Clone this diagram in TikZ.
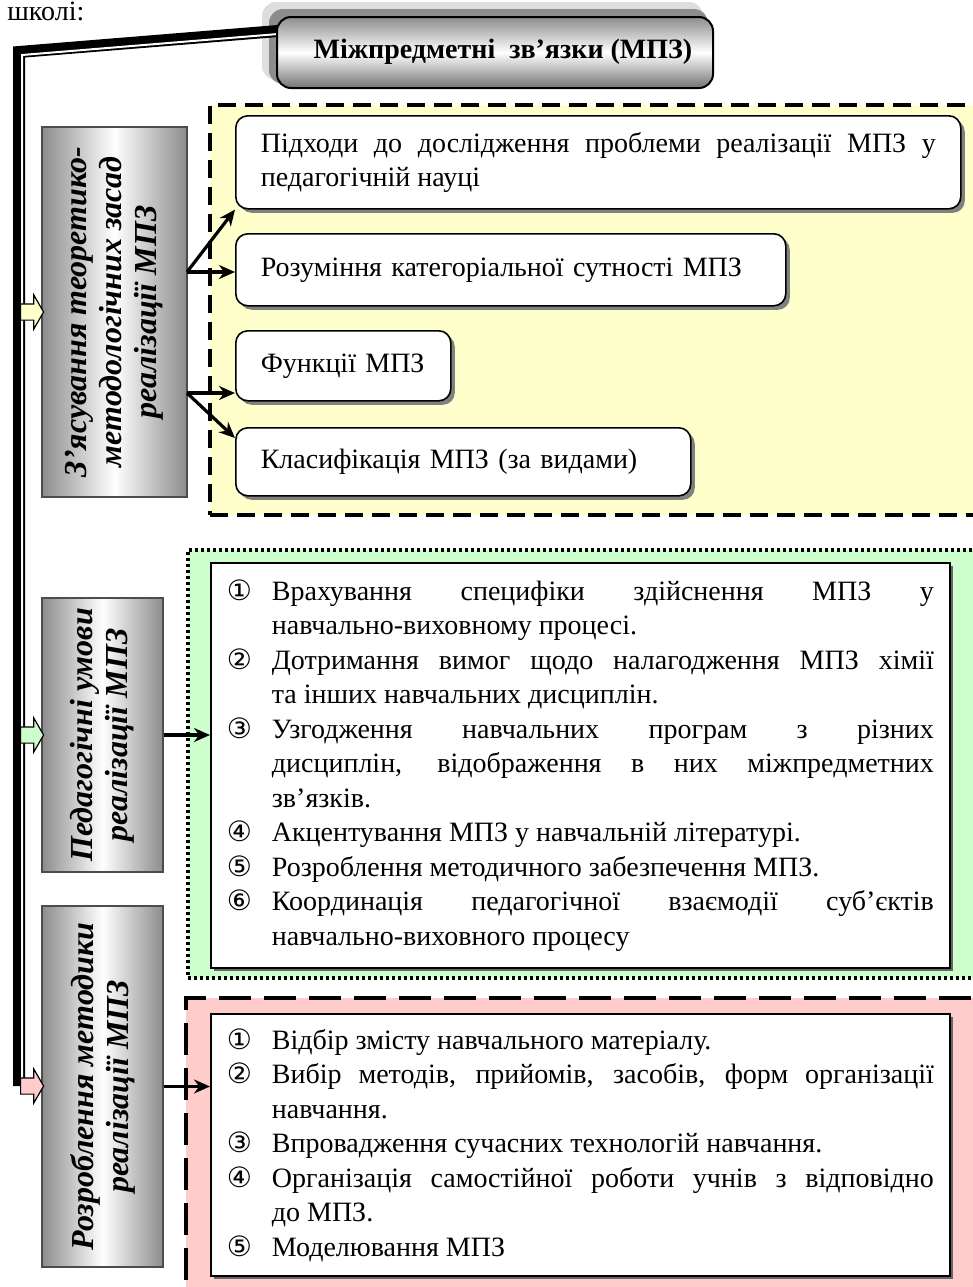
\documentclass[tikz,border=0pt]{standalone}
\usepackage{fontspec}
\setmainfont{Liberation Serif}
\newfontfamily\circledfont{DejaVu Sans}
\usetikzlibrary{arrows.meta,shapes.arrows,shadows,fit}

\definecolor{yellowfill}{RGB}{255,255,204}
\definecolor{greenfill}{RGB}{204,255,204}
\definecolor{pinkfill}{RGB}{255,204,204}

\newcommand{\bodyfont}{\fontsize{14}{17.25}\selectfont\tolerance=10000\hyphenpenalty=10000}
% one numbered line of a list, hanging under its text
\newcommand{\numitem}[2]{\noindent\hangindent=22.5pt\hangafter=1\makebox[22.5pt][l]{\circledfont #1}#2\par}

\tikzset{
  titlebox/.style={draw, line width=1pt, rounded corners=7pt, top color=black!45, bottom color=black!55, middle color=white, inner sep=0pt},
  sidebox/.style={draw=black!70, line width=0.9pt, left color=black!45, right color=black!45, middle color=white, inner sep=0pt},
  sidetext/.style={rotate=90, align=center, font=\fontsize{16}{17.5}\selectfont\bfseries\itshape},
  itembox/.style={draw, line width=0.8pt, rounded corners=6pt, fill=white, drop shadow={shadow xshift=2pt, shadow yshift=-2pt, fill=black!50, opacity=1}, anchor=north west, inner xsep=12.5pt, inner ysep=0pt, align=left, font=\bodyfont},
  listbox/.style={draw, line width=0.9pt, fill=white, drop shadow={shadow xshift=1.5pt, shadow yshift=-1.5pt, fill=black!60, opacity=1}, anchor=north west, inner xsep=8pt, inner ysep=0pt, text width=353.5pt, align=justify, font=\bodyfont},
  zone/.style={inner sep=0pt},
  link/.style={-{Stealth[length=8pt,width=7pt]}, line width=1.6pt},
  trunkline/.style={line width=6pt},
  trunkgap/.style={white, line width=1pt},
  blockarrow/.style={single arrow, draw, line width=0.6pt, inner xsep=0pt, inner ysep=3.75pt, minimum width=0pt, minimum height=11.5pt, single arrow head extend=4.5pt, single arrow tip angle=120, single arrow head indent=0pt, anchor=tail}
}

\begin{document}
\begin{tikzpicture}[x=0.5pt,y=-0.5pt]
\useasboundingbox (0,0) rectangle (973,1287);
\clip (0,0) rectangle (973,1287);

\node[anchor=base west, inner sep=0pt, font=\fontsize{14}{17}\selectfont] (school) at (7,20) {школі:};

% coloured zones
\node[zone, draw, line width=1.8pt, dash pattern=on 9pt off 4.5pt, fill=yellowfill, fit={(210,105) (990,515)}] (theoryzone) {};
\node[zone, draw, line width=1.6pt, dash pattern=on 1.5pt off 1.5pt, fill=greenfill, fit={(188,550) (990,978)}] (condzone) {};
\node[zone, draw, line width=2pt, dash pattern=on 16pt off 6.5pt, fill=pinkfill, fit={(186,998) (990,1300)}] (methzone) {};

% title with its two shadows
\fill[black!13, rounded corners=7pt] (262,2) rectangle (703,80);
\fill[black!45, rounded corners=7pt] (269,9) rectangle (708,84);
\coordinate (trunkstart) at (278,31);
\coordinate (bend) at (19,52);
\coordinate (trunkend) at (19,1086);
\draw[trunkline] (trunkstart) -- (bend) -- (trunkend);
\draw[trunkgap] ([shift={(0,3)}]trunkstart) -- ([shift={(3,3)}]bend) -- ([shift={(3,0)}]trunkend);
\node[titlebox, fit={(277,17) (713,88)}] (mpz) {};
\node[font=\fontsize{14}{17}\selectfont\bfseries] (mpztext) at (503,52) {Міжпредметні\ \ зв’язки (МПЗ)};

% side boxes
\node[sidebox, fit={(42,127) (187,497)}] (theory) {};
\node[sidetext] at (theory) {З’ясування теоретико-\\методологічних засад\\реалізації МПЗ};
\node[sidebox, fit={(42,598) (163,872)}] (conditions) {};
\node[sidetext] at (conditions) {Педагогічні умови\\реалізації МПЗ};
\node[sidebox, fit={(42,906) (163,1267)}] (method) {};
\node[sidetext] at (method) {Розроблення методики\\реалізації МПЗ};

\node[blockarrow, fill=yellowfill] (arrowa) at (20,312) {};
\node[blockarrow, fill=greenfill] (arrowb) at (20,735) {};
\node[blockarrow, fill=pinkfill] (arrowc) at (20,1086) {};

% first zone
\node[itembox, text width=337.5pt, align=justify, minimum height=46.5pt] (approach) at (235,115)
  {Підходи до дослідження проблеми реалізації МПЗ у педагогічній науці};
\node[itembox, text width=250pt, minimum height=36pt] (essence) at (235,233)
  {Розуміння категоріальної сутності МПЗ};
\node[itembox, text width=82.5pt, minimum height=35pt] (functions) at (235,330)
  {Функції МПЗ};
\node[itembox, text width=202.5pt, minimum height=34pt] (kinds) at (235,427)
  {Класифікація МПЗ (за видами)};

\coordinate (fork1) at (187,272);
\coordinate (fork2) at (187,393);
\draw[link] (fork1) -- (approach.south west);
\draw[link] (fork1) -- (essence.west |- fork1);
\draw[link] (fork2) -- (functions.west |- fork2);
\draw[link] (fork2) -- (235,438);

% second zone
\node[listbox, minimum height=202.5pt] (condlist) at (210,562) {%
\numitem{①}{Врахування специфіки здійснення МПЗ у\linebreak навчально-виховному процесі.}
\numitem{②}{Дотримання вимог щодо налагодження МПЗ хімії\linebreak та інших навчальних дисциплін.}
\numitem{③}{Узгодження навчальних програм з різних\linebreak дисциплін, відображення в них міжпредметних\linebreak зв’язків.}
\numitem{④}{Акцентування МПЗ у навчальній літературі.}
\numitem{⑤}{Розроблення методичного забезпечення МПЗ.}
\numitem{⑥}{Координація педагогічної взаємодії суб’єктів\linebreak навчально-виховного процесу}};
\draw[link] (conditions.east) -- (condlist.west |- conditions.east);

% third zone
\node[listbox, minimum height=131pt] (methlist) at (210,1013) {%
\numitem{①}{Відбір змісту навчального матеріалу.}
\numitem{②}{Вибір методів, прийомів, засобів, форм організації\linebreak навчання.}
\numitem{③}{Впровадження сучасних технологій навчання.}
\numitem{④}{Організація самостійної роботи учнів з відповідно\linebreak до МПЗ.}
\numitem{⑤}{Моделювання МПЗ}};
\draw[link] (method.east) -- (methlist.west |- method.east);
\end{tikzpicture}
\end{document}
